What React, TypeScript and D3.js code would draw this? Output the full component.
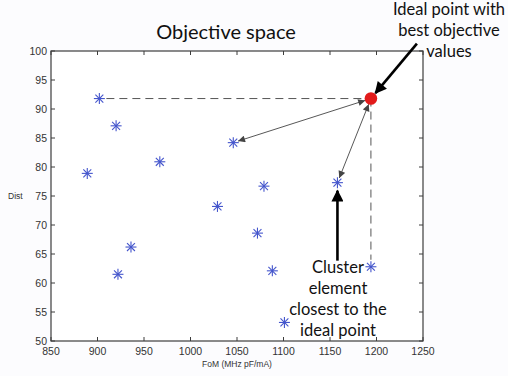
import React from "react";
import * as d3 from "d3";

// Cluster members in objective space: FoM (MHz pF/mA) vs Dist
const fom = [902, 920, 889, 967, 1046, 936, 922, 1029, 1072, 1079, 1088, 1101, 1194, 1158];
const dist = [91.8, 87.1, 78.9, 80.9, 84.2, 66.2, 61.5, 73.2, 68.6, 76.7, 62.1, 53.2, 62.8, 77.3];

// Ideal point: best value of each objective
const idealFoM = 1194;
const idealDist = 91.8;

// Members joined to the ideal point by distance arrows
const linkedFoM = [1046, 1158];
const linkedDist = [84.2, 77.3];

const xTicks = [850, 900, 950, 1000, 1050, 1100, 1150, 1200, 1250];
const yTicks = [50, 55, 60, 65, 70, 75, 80, 85, 90, 95, 100];

const titleText = "Objective space";
const xLabel = "FoM (MHz pF/mA)";
const yLabel = "Dist";
const idealNote = ["Ideal point with", "best objective", "values"];
const clusterNote = ["Cluster", "element", "closest to the", "ideal point"];

const W = 508;
const H = 376;
const L = 51, R = 423, T = 51, B = 341;

export default function App() {
  const x = d3.scaleLinear().domain([850, 1250]).range([L, R]);
  const y = d3.scaleLinear().domain([50, 100]).range([B, T]);
  const axisColor = "#3c3c3c";
  const tickFont = "'Liberation Sans', Arial, sans-serif";
  const noteFont = "Lato, 'Open Sans', sans-serif";
  const tickLen = 4;

  const ix = x(idealFoM);
  const iy = y(idealDist);

  // index of the member that starts the horizontal dashed guide (best Dist)
  const bestDistIdx = d3.maxIndex(dist);
  // member that starts the vertical dashed guide (best FoM)
  const bestFoMIdx = d3.maxIndex(fom);

  const star = (cx: number, cy: number, key: number) => {
    const r = 5.5;
    const d = r * 0.72;
    return (
      <g key={key} stroke="#4455cc" strokeWidth={1.1}>
        <line x1={cx - r} y1={cy} x2={cx + r} y2={cy} />
        <line x1={cx} y1={cy - r} x2={cx} y2={cy + r} />
        <line x1={cx - d} y1={cy - d} x2={cx + d} y2={cy + d} />
        <line x1={cx - d} y1={cy + d} x2={cx + d} y2={cy - d} />
      </g>
    );
  };

  // shorten a segment at both ends
  const trim = (x1: number, y1: number, x2: number, y2: number, a: number, b: number) => {
    const dx = x2 - x1, dy = y2 - y1;
    const len = Math.hypot(dx, dy);
    const ux = dx / len, uy = dy / len;
    return { x1: x1 + ux * a, y1: y1 + uy * a, x2: x2 - ux * b, y2: y2 - uy * b };
  };

  const closeX = x(linkedFoM[1]);
  const closeY = y(linkedDist[1]);

  const idealArrow = trim(ix + 46, iy - 55, ix, iy, 0, 7);
  const clusterArrow = { x1: closeX, y1: closeY + 78, x2: closeX, y2: closeY + 8 };

  return (
    <div style={{ position: "absolute", left: 0, top: 0 }}>
      <svg width={W} height={H} style={{ display: "block", background: "#fcfcfe" }}>
        <defs>
          <marker id="thinHead" viewBox="0 0 10 10" refX="10" refY="5" markerWidth="9" markerHeight="7" markerUnits="userSpaceOnUse" orient="auto-start-reverse">
            <path d="M0,0 L10,5 L0,10 z" fill="#444" />
          </marker>
          <marker id="boldHead" viewBox="0 0 10 10" refX="9" refY="5" markerWidth="14" markerHeight="12" markerUnits="userSpaceOnUse" orient="auto">
            <path d="M0,0 L10,5 L0,10 z" fill="#000" />
          </marker>
        </defs>

        <rect x={L} y={T} width={R - L} height={B - T} fill="#ffffff" />

        {/* ticks on all four sides, pointing inward */}
        {xTicks.map((t) => (
          <g key={"xt" + t} stroke={axisColor} strokeWidth={1}>
            <line x1={x(t)} y1={B} x2={x(t)} y2={B - tickLen} />
            <line x1={x(t)} y1={T} x2={x(t)} y2={T + tickLen} />
          </g>
        ))}
        {yTicks.map((t) => (
          <g key={"yt" + t} stroke={axisColor} strokeWidth={1}>
            <line x1={L} y1={y(t)} x2={L + tickLen} y2={y(t)} />
            <line x1={R} y1={y(t)} x2={R - tickLen} y2={y(t)} />
          </g>
        ))}
        <rect x={L} y={T} width={R - L} height={B - T} fill="none" stroke={axisColor} strokeWidth={1.2} />

        {xTicks.map((t) => (
          <text key={"xl" + t} x={x(t)} y={B + 14} textAnchor="middle" fontFamily={tickFont} fontSize={10.5} fill="#333">
            {t}
          </text>
        ))}
        {yTicks.map((t) => (
          <text key={"yl" + t} x={L - 4} y={y(t) + 3.5} textAnchor="end" fontFamily={tickFont} fontSize={10.5} fill="#333">
            {t}
          </text>
        ))}

        <text x={(L + R) / 2} y={367} textAnchor="middle" fontFamily={tickFont} fontSize={8.5} fill="#333">
          {xLabel}
        </text>
        <text x={8} y={199} fontFamily={tickFont} fontSize={8.5} fill="#333">
          {yLabel}
        </text>

        <text x={226} y={39} textAnchor="middle" fontFamily={noteFont} fontSize={20} fill="#111">
          {titleText}
        </text>

        {/* dashed guides from the best members to the ideal point */}
        <line x1={x(fom[bestDistIdx]) + 7} y1={iy} x2={ix} y2={iy} stroke="#555" strokeWidth={1} strokeDasharray="8,5" />
        <line x1={ix} y1={iy} x2={ix} y2={y(dist[bestFoMIdx]) - 7} stroke="#555" strokeWidth={1} strokeDasharray="8,5" />

        {/* distance arrows */}
        {linkedFoM.map((f, i) => {
          const s = trim(x(f), y(linkedDist[i]), ix, iy, 5, 6);
          return (
            <line key={"lk" + i} {...s} stroke="#444" strokeWidth={0.9} markerStart="url(#thinHead)" markerEnd="url(#thinHead)" />
          );
        })}

        {fom.map((f, i) => star(x(f), y(dist[i]), i))}

        <circle cx={ix} cy={iy} r={6.3} fill="#e21b1b" />

        {/* annotations */}
        <line {...idealArrow} stroke="#000" strokeWidth={2.6} markerEnd="url(#boldHead)" />
        <line {...clusterArrow} stroke="#000" strokeWidth={2.6} markerEnd="url(#boldHead)" />

        <text textAnchor="middle" fontFamily={noteFont} fontSize={16.5} fill="#111">
          {idealNote.map((s, i) => (
            <tspan key={i} x={449} y={15 + i * 21}>{s}</tspan>
          ))}
        </text>
        <text textAnchor="middle" fontFamily={noteFont} fontSize={16.5} fill="#111">
          {clusterNote.map((s, i) => (
            <tspan key={i} x={338} y={273 + i * 21}>{s}</tspan>
          ))}
        </text>
      </svg>
    </div>
  );
}
